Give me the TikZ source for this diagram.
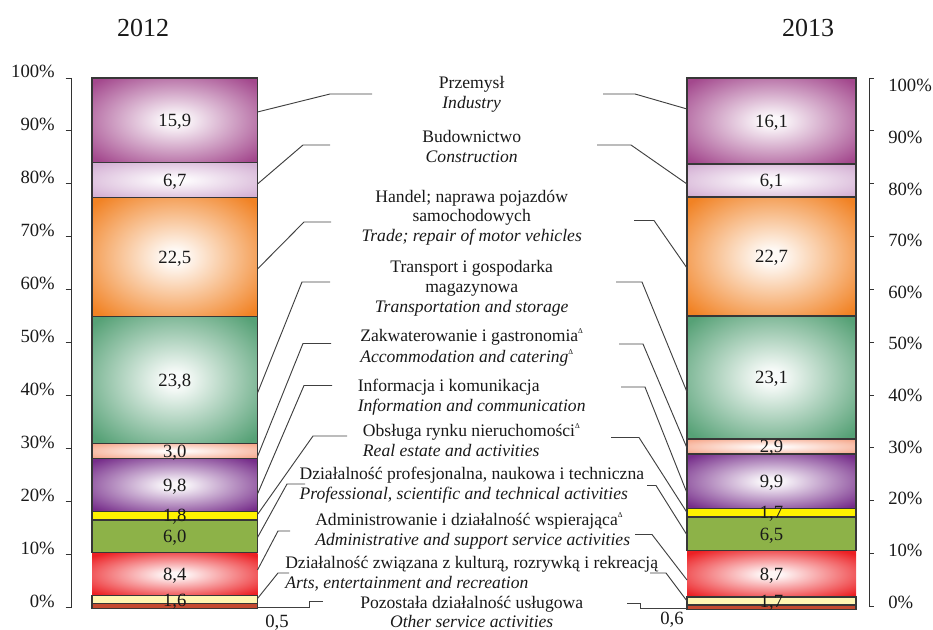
\documentclass[tikz,border=0pt]{standalone}
\usepackage{fontspec}
\setmainfont{Liberation Serif}
\definecolor{cInd}{RGB}{163,72,141}
\definecolor{cCon}{RGB}{212,176,212}
\definecolor{cTra}{RGB}{241,130,36}
\definecolor{cTsp}{RGB}{86,161,118}
\definecolor{cAcc}{RGB}{246,168,140}
\definecolor{cInf}{RGB}{118,45,138}
\definecolor{cRea}{RGB}{255,242,0}
\definecolor{cPro}{RGB}{141,178,72}
\definecolor{cAdm}{RGB}{236,32,36}
\definecolor{cArt}{RGB}{255,246,178}
\definecolor{cOth}{RGB}{196,74,48}
\definecolor{lineC}{RGB}{55,55,55}
\colorlet{segin}{white}
\colorlet{segout}{black}
\pgfdeclareradialshading[segin,segout]{segrad}{\pgfpointorigin}{color(0bp)=(segin); color(3bp)=(segin); color(33bp)=(segout); color(50bp)=(segout)}
\tikzset{
  rad/.style={/utils/exec={\colorlet{segin}{#1!4!white}\colorlet{segout}{#1}}, shading=segrad},
  flat/.style={fill=#1},
  segline/.style={draw=lineC, line width=1.1pt},
  conn/.style={draw=black!75, line width=0.7pt},
  num/.style={font=\fontsize{14}{14}\selectfont, anchor=base, inner sep=0pt, text=black!90},
  axl/.style={font=\fontsize{14}{14}\selectfont, inner sep=0pt, text=black!90},
  ttl/.style={font=\fontsize{19.5}{20}\selectfont, inner sep=0pt, text=black!90},
  lbl/.style={font=\fontsize{13.2}{14.8}\selectfont, inner sep=0pt, text=black!90},
  axis/.style={draw=black!80, line width=0.7pt}
}
\newcommand\dlt{\raisebox{0.95ex}{\fontsize{5.5}{5.5}\selectfont Δ}}
\newcommand\segm[7]{%
  \path[#1] (#2,#4) rectangle (#3,#5);
  \node[num] (#7) at ({(#2+#3)/2},{(#4+#5)/2+6.3}) {#6};}
\newcommand\segb[4]{\draw[segline] (#1,#3) rectangle (#2,#4);}
\begin{document}
\begin{tikzpicture}[x=0.75pt,y=-0.75pt]
\useasboundingbox (0,0) rectangle (933,630);
% titles
\node[ttl] (t12) at (143,28) {2012};
\node[ttl] (t13) at (808,28) {2013};
% left axis
\draw[axis] (71,78) -- (71,607.7);
\foreach \k in {0,...,10} {
  \pgfmathsetmacro\yy{78+\k*52.97}
  \draw[axis] (65.5,\yy) -- (71,\yy);
}
\foreach \k/\t in {0/100\%,1/90\%,2/80\%,3/70\%,4/60\%,5/50\%,6/40\%,7/30\%,8/20\%,9/10\%,10/0\%} {
  \pgfmathsetmacro\yy{78+\k*52.97}
  \node[axl, anchor=base east] (la\k) at (55,\yy) {\t};
}
% right axis
\draw[axis] (869.3,78) -- (869.3,606.5);
\foreach \k in {0,...,10} {
  \pgfmathsetmacro\yy{78+\k*52.85}
  \draw[axis] (869.3,\yy) -- (874,\yy);
}
\foreach \k/\t in {0/100\%,1/90\%,2/80\%,3/70\%,4/60\%,5/50\%,6/40\%,7/30\%,8/20\%,9/10\%,10/0\%} {
  \pgfmathsetmacro\yy{91.7+\k*51.66}
  \node[axl, anchor=base west] (ra\k) at (888,\yy) {\t};
}
% left bar 2012
\segm{rad=cInd}{92}{257.5}{78}{162.7}{15,9}{a1}
\segm{rad=cCon}{92}{257.5}{162.7}{197.3}{6,7}{a2}
\segm{rad=cTra}{92}{257.5}{197.3}{316.7}{22,5}{a3}
\segm{rad=cTsp}{92}{257.5}{316.7}{443.3}{23,8}{a4}
\segm{rad=cAcc}{92}{257.5}{443.3}{458.3}{}{a5x}
\segm{rad=cInf}{92}{257.5}{458.3}{511.7}{9,8}{a6}
\segm{flat=cRea}{92}{257.5}{511.7}{520}{}{a7x}
\segm{flat=cPro}{92}{257.5}{520}{552.7}{6,0}{a8}
\segm{rad=cAdm}{92}{257.5}{553.5}{595.5}{8,4}{a9}
\segm{flat=cArt}{92}{257.5}{595.5}{603.3}{}{a10x}
\segm{flat=cOth}{92}{257.5}{603.3}{608.3}{}{a11x}
\segb{92}{257.5}{78}{162.7}
\segb{92}{257.5}{162.7}{197.3}
\segb{92}{257.5}{197.3}{316.7}
\segb{92}{257.5}{316.7}{443.3}
\segb{92}{257.5}{443.3}{458.3}
\segb{92}{257.5}{458.3}{511.7}
\segb{92}{257.5}{511.7}{520}
\segb{92}{257.5}{520}{552.7}
\segb{92}{257.5}{595.5}{603.3}
\segb{92}{257.5}{603.3}{608.3}
\node[num] (a5) at (174.75,457.2) {3,0};
\node[num] (a7) at (174.75,522) {1,8};
\node[num] (a10) at (174.75,606.5) {1,6};
% right bar 2013
\segm{rad=cInd}{687}{856}{78}{164}{16,1}{b1}
\segm{rad=cCon}{687}{856}{164}{197}{6,1}{b2}
\segm{rad=cTra}{687}{856}{197}{316}{22,7}{b3}
\segm{rad=cTsp}{687}{856}{316}{439}{23,1}{b4}
\segm{rad=cAcc}{687}{856}{439}{454}{}{b5x}
\segm{rad=cInf}{687}{856}{454}{508.5}{9,9}{b6}
\segm{flat=cRea}{687}{856}{508.5}{517}{}{b7x}
\segm{flat=cPro}{687}{856}{517}{550.5}{6,5}{b8}
\segm{rad=cAdm}{687}{856}{551.3}{597}{8,7}{b9}
\segm{flat=cArt}{687}{856}{597}{605}{}{b10x}
\segm{flat=cOth}{687}{856}{605}{609.5}{}{b11x}
\segb{687}{856}{78}{164}
\segb{687}{856}{164}{197}
\segb{687}{856}{197}{316}
\segb{687}{856}{316}{439}
\segb{687}{856}{439}{454}
\segb{687}{856}{454}{508.5}
\segb{687}{856}{508.5}{517}
\segb{687}{856}{517}{550.5}
\segb{687}{856}{597}{605}
\segb{687}{856}{605}{609.5}
\node[num] (b5) at (771.5,452.8) {2,9};
\node[num] (b7) at (771.5,519) {1,7};
\node[num] (b10) at (771.5,607.3) {1,7};
% small value labels
\node[num, anchor=center] (v05) at (277,623) {0,5};
\node[num, anchor=center] (v06) at (672,620) {0,6};
% category labels
\node[lbl, align=center] (l1) at (471.7,94.2) {Przemysł\\\textit{Industry}};
\node[lbl, align=center] (l2) at (471.7,146.5) {Budownictwo\\\textit{Construction}};
\node[lbl, align=center] (l3) at (471.7,217.5) {Handel; naprawa pojazdów\\samochodowych\\\textit{Trade; repair of motor vehicles}};
\node[lbl, align=center] (l4) at (471.7,288.5) {Transport i gospodarka\\magazynowa\\\textit{Transportation and storage}};
\node[lbl, align=left, anchor=west] (l5) at (360,347.5) {Zakwaterowanie i gastronomia\dlt\\[1pt]\textit{Accommodation and catering}\dlt};
\node[lbl, align=left, anchor=west] (l6) at (357.5,397) {Informacja i komunikacja\\\textit{Information and communication}};
\node[lbl, align=left, anchor=west] (l7) at (362.7,440) {Obsługa rynku nieruchomości\dlt\\\textit{Real estate and activities}};
\node[lbl, align=left, anchor=west] (l8) at (299.3,485) {Działalność profesjonalna, naukowa i techniczna\\\textit{Professional, scientific and technical activities}};
\node[lbl, align=left, anchor=west] (l9) at (315,531) {Administrowanie i działalność wspierająca\dlt\\\textit{Administrative and support service activities}};
\node[lbl, align=left, anchor=west] (l10) at (285,573.5) {Działalność związana z kulturą, rozrywką i rekreacją\\\textit{Arts, entertainment and recreation}};
\node[lbl, align=center] (l11) at (471.7,612) {Pozostała działalność usługowa\\\textit{Other service activities}};
% left connector points
\coordinate (La1) at (257.5,112); \coordinate (Lk1) at (330,94); \coordinate (Le1) at (372,94);
\coordinate (La2) at (257.5,184); \coordinate (Lk2) at (303,145); \coordinate (Le2) at (330,145);
\coordinate (La3) at (257.5,269); \coordinate (Lk3) at (304,222); \coordinate (Le3) at (331,222);
\coordinate (La4) at (257.5,393); \coordinate (Lk4) at (302,282); \coordinate (Le4) at (330,282);
\coordinate (La5) at (257.5,456.5); \coordinate (Lk5) at (303,343.5); \coordinate (Le5) at (331,343.5);
\coordinate (La6) at (257.5,494); \coordinate (Lk6) at (304,385.5); \coordinate (Le6) at (332,385.5);
\coordinate (La7) at (257.5,514.5); \coordinate (Lk7) at (313,436); \coordinate (Le7) at (347,436);
\coordinate (La8) at (257.5,537.5); \coordinate (Lk8) at (287,484); \coordinate (Le8) at (305,484);
\coordinate (La9) at (257.5,570); \coordinate (Lk9) at (278,531); \coordinate (Le9) at (290,531);
\coordinate (La10) at (257.5,598.5); \coordinate (Lk10) at (278,573); \coordinate (Le10) at (289,573);
\coordinate (La11) at (257.5,607.7); \coordinate (Lk11) at (309,607.7); \coordinate (Lm11) at (309,601); \coordinate (Le11) at (323,601);
% right connector points
\coordinate (Ra1) at (687,109); \coordinate (Rk1) at (635,94); \coordinate (Re1) at (603,94);
\coordinate (Ra2) at (687,184); \coordinate (Rk2) at (631,145); \coordinate (Re2) at (597,145);
\coordinate (Ra3) at (687,268); \coordinate (Rk3) at (654,220.5); \coordinate (Re3) at (634,220.5);
\coordinate (Ra4) at (687,392); \coordinate (Rk4) at (642,282); \coordinate (Re4) at (616,282);
\coordinate (Ra5) at (687,448); \coordinate (Rk5) at (643,344); \coordinate (Re5) at (619,344);
\coordinate (Ra6) at (687,493); \coordinate (Rk6) at (645,387); \coordinate (Re6) at (621,387);
\coordinate (Ra7) at (687,512.5); \coordinate (Rk7) at (639,437.5); \coordinate (Re7) at (611,437.5);
\coordinate (Ra8) at (687,535); \coordinate (Rk8) at (656,485.5); \coordinate (Re8) at (647,485.5);
\coordinate (Ra9) at (687,580); \coordinate (Rk9) at (652,534.5); \coordinate (Re9) at (635,534.5);
\coordinate (Ra10) at (687,601); \coordinate (Rk10) at (666,573); \coordinate (Re10) at (650,573);
\coordinate (Ra11) at (687,608); \coordinate (Rk11) at (640,608); \coordinate (Rm11) at (640,603); \coordinate (Re11) at (627,603);
\foreach \i in {1,...,10} {
  \draw[conn] (La\i) -- (Lk\i) -- (Le\i);
  \draw[conn] (Ra\i) -- (Rk\i) -- (Re\i);
}
\draw[conn] (La11) -- (Lk11) -- (Lm11) -- (Le11);
\draw[conn] (Ra11) -- (Rk11) -- (Rm11) -- (Re11);
\end{tikzpicture}
\end{document}
